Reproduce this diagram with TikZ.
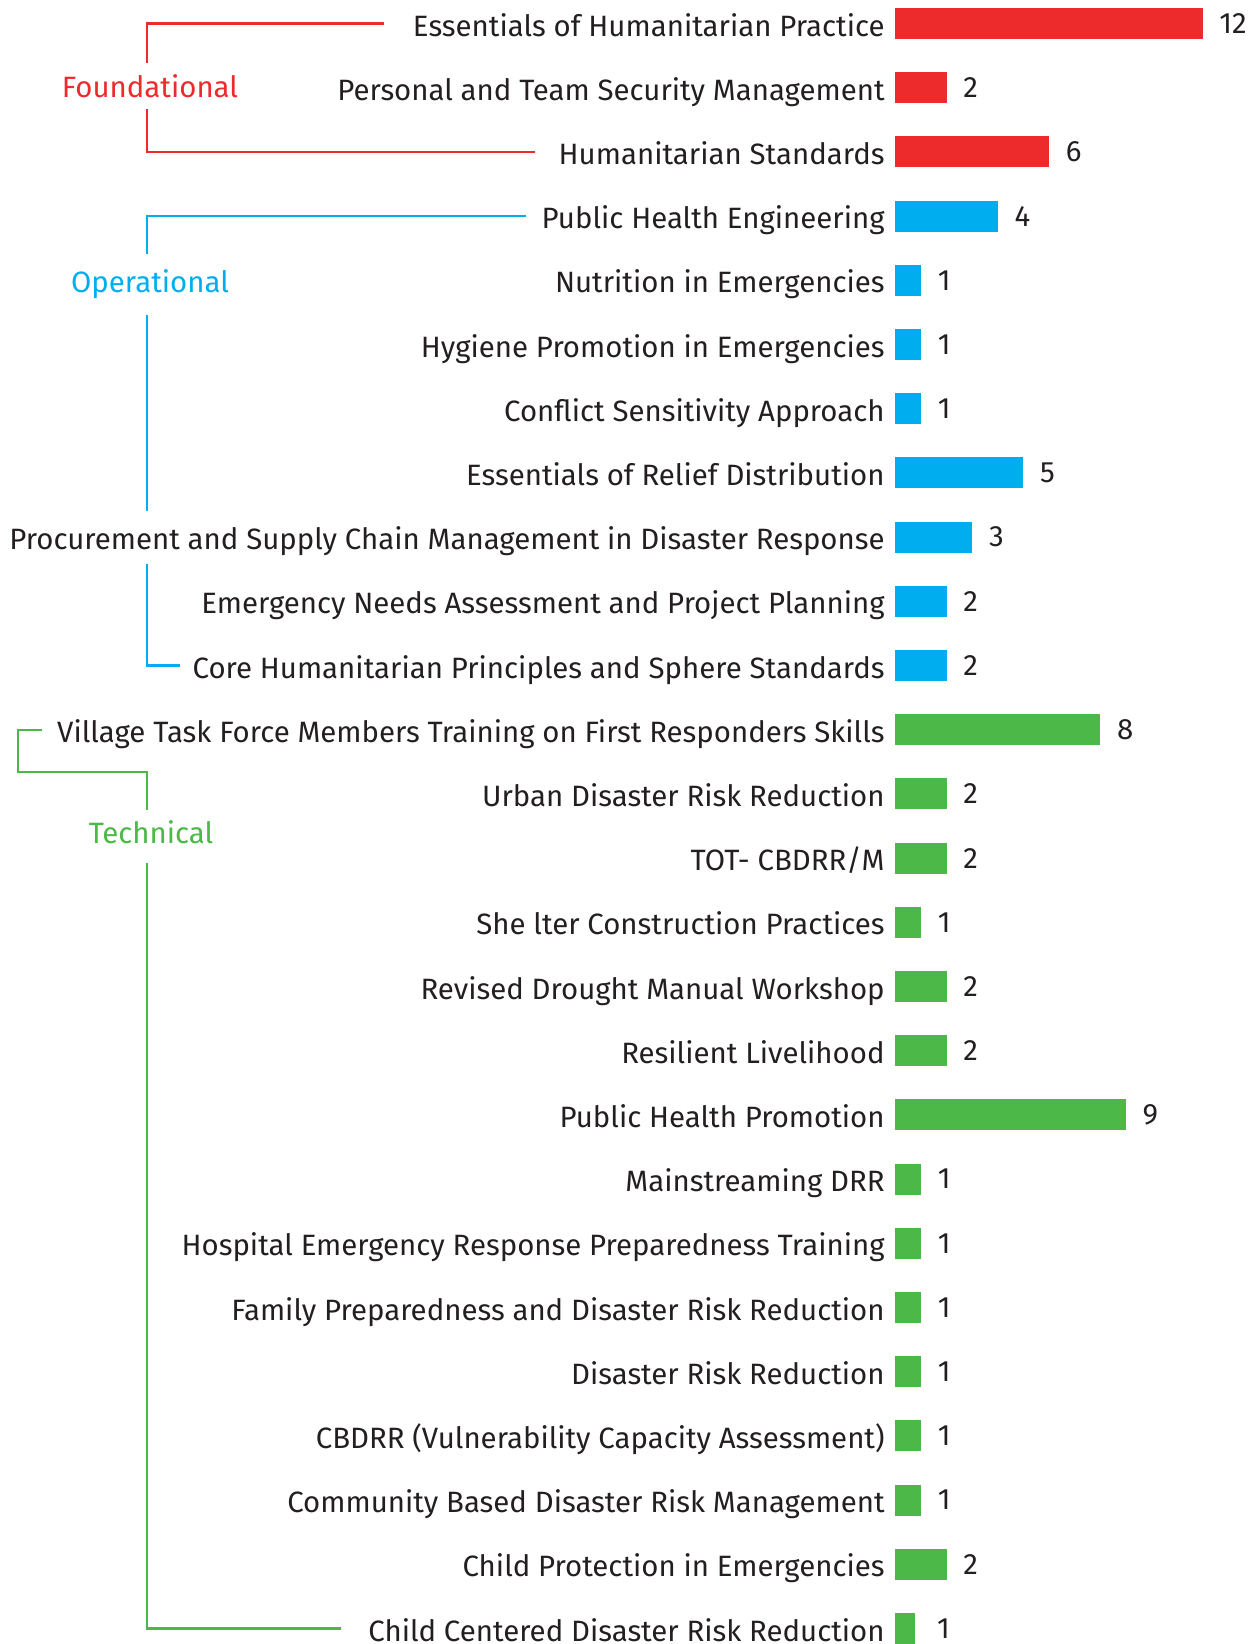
\documentclass[tikz,border=0pt]{standalone}
\usepackage{fontspec}
\setmainfont{Fira Sans}
\usetikzlibrary{positioning}

\definecolor{fred}{HTML}{ED2A2C}
\definecolor{fblue}{HTML}{00AEEF}
\definecolor{fgreen}{HTML}{4CB848}
\definecolor{ink}{HTML}{231F20}

\begin{document}
\begin{tikzpicture}[x=0.5pt,y=-0.5pt,
    every node/.style={font=\fontsize{14.7pt}{18pt}\selectfont},
    bar/.style={anchor=west, inner sep=0pt, minimum height=15.5pt, minimum width=#1*12.8pt},
    lbl/.style={anchor=base east, inner sep=0pt, text=ink, xshift=-5pt, yshift=-6.25pt},
    num/.style={inner sep=0pt, text=ink},
    cat/.style={anchor=base, inner sep=0pt},
    brk/.style={line width=1.15pt}]
        \useasboundingbox (0,0) rectangle (1257,1644);

        % bars
        \node[bar=12, fill=fred]  (b1)  at (895,23.5) {};
        \node[bar=2,  fill=fred]  (b2)  at (895,87.7) {};
        \node[bar=6,  fill=fred]  (b3)  at (895,151.9) {};
        \node[bar=4,  fill=fblue] (b4)  at (895,216.1) {};
        \node[bar=1,  fill=fblue] (b5)  at (895,280.3) {};
        \node[bar=1,  fill=fblue] (b6)  at (895,344.5) {};
        \node[bar=1,  fill=fblue] (b7)  at (895,408.7) {};
        \node[bar=5,  fill=fblue] (b8)  at (895,472.9) {};
        \node[bar=3,  fill=fblue] (b9)  at (895,537.1) {};
        \node[bar=2,  fill=fblue] (b10) at (895,601.3) {};
        \node[bar=2,  fill=fblue] (b11) at (895,665.5) {};
        \node[bar=8,  fill=fgreen] (b12) at (895,729.7) {};
        \node[bar=2,  fill=fgreen] (b13) at (895,793.9) {};
        \node[bar=2,  fill=fgreen] (b14) at (895,858.1) {};
        \node[bar=1,  fill=fgreen] (b15) at (895,922.3) {};
        \node[bar=2,  fill=fgreen] (b16) at (895,986.5) {};
        \node[bar=2,  fill=fgreen] (b17) at (895,1050.7) {};
        \node[bar=9,  fill=fgreen] (b18) at (895,1114.9) {};
        \node[bar=1,  fill=fgreen] (b19) at (895,1179.1) {};
        \node[bar=1,  fill=fgreen] (b20) at (895,1243.3) {};
        \node[bar=1,  fill=fgreen] (b21) at (895,1307.5) {};
        \node[bar=1,  fill=fgreen] (b22) at (895,1371.7) {};
        \node[bar=1,  fill=fgreen] (b23) at (895,1435.9) {};
        \node[bar=1,  fill=fgreen] (b24) at (895,1500.1) {};
        \node[bar=2,  fill=fgreen] (b25) at (895,1564.3) {};
        \node[bar=0.78, fill=fgreen] (b26) at (895,1628.5) {};

        % course names
        \node[lbl] (t1)  at (b1.west)  {Essentials of Humanitarian Practice};
        \node[lbl] (t2)  at (b2.west)  {Personal and Team Security Management};
        \node[lbl] (t3)  at (b3.west)  {Humanitarian Standards};
        \node[lbl] (t4)  at (b4.west)  {Public Health Engineering};
        \node[lbl] (t5)  at (b5.west)  {Nutrition in Emergencies};
        \node[lbl] (t6)  at (b6.west)  {Hygiene Promotion in Emergencies};
        \node[lbl] (t7)  at (b7.west)  {Conflict Sensitivity Approach};
        \node[lbl] (t8)  at (b8.west)  {Essentials of Relief Distribution};
        \node[lbl] (t9)  at (b9.west)  {Procurement and Supply Chain Management in Disaster Response};
        \node[lbl] (t10) at (b10.west) {Emergency Needs Assessment and Project Planning};
        \node[lbl] (t11) at (b11.west) {Core Humanitarian Principles and Sphere Standards};
        \node[lbl] (t12) at (b12.west) {Village Task Force Members Training on First Responders Skills};
        \node[lbl] (t13) at (b13.west) {Urban Disaster Risk Reduction};
        \node[lbl] (t14) at (b14.west) {TOT- CBDRR/M};
        \node[lbl] (t15) at (b15.west) {She lter Construction Practices};
        \node[lbl] (t16) at (b16.west) {Revised Drought Manual Workshop};
        \node[lbl] (t17) at (b17.west) {Resilient Livelihood};
        \node[lbl] (t18) at (b18.west) {Public Health Promotion};
        \node[lbl] (t19) at (b19.west) {Mainstreaming DRR};
        \node[lbl] (t20) at (b20.west) {Hospital Emergency Response Preparedness Training};
        \node[lbl] (t21) at (b21.west) {Family Preparedness and Disaster Risk Reduction};
        \node[lbl] (t22) at (b22.west) {Disaster Risk Reduction};
        \node[lbl] (t23) at (b23.west) {CBDRR (Vulnerability Capacity Assessment)};
        \node[lbl] (t24) at (b24.west) {Community Based Disaster Risk Management};
        \node[lbl] (t25) at (b25.west) {Child Protection in Emergencies};
        \node[lbl] (t26) at (b26.west) {Child Centered Disaster Risk Reduction};

        % counts
        \node[num, right=8pt of b1]  (v1)  {12};
        \node[num, right=8pt of b2]  (v2)  {2};
        \node[num, right=8pt of b3]  (v3)  {6};
        \node[num, right=8pt of b4]  (v4)  {4};
        \node[num, right=8pt of b5]  (v5)  {1};
        \node[num, right=8pt of b6]  (v6)  {1};
        \node[num, right=8pt of b7]  (v7)  {1};
        \node[num, right=8pt of b8]  (v8)  {5};
        \node[num, right=8pt of b9]  (v9)  {3};
        \node[num, right=8pt of b10] (v10) {2};
        \node[num, right=8pt of b11] (v11) {2};
        \node[num, right=8pt of b12] (v12) {8};
        \node[num, right=8pt of b13] (v13) {2};
        \node[num, right=8pt of b14] (v14) {2};
        \node[num, right=8pt of b15] (v15) {1};
        \node[num, right=8pt of b16] (v16) {2};
        \node[num, right=8pt of b17] (v17) {2};
        \node[num, right=8pt of b18] (v18) {9};
        \node[num, right=8pt of b19] (v19) {1};
        \node[num, right=8pt of b20] (v20) {1};
        \node[num, right=8pt of b21] (v21) {1};
        \node[num, right=8pt of b22] (v22) {1};
        \node[num, right=8pt of b23] (v23) {1};
        \node[num, right=8pt of b24] (v24) {1};
        \node[num, right=8pt of b25] (v25) {2};
        \node[num, right=10.5pt of b26] (v26) {1};

        % groups
        \node[cat, text=fred]   (fnd) at (150,97)  {Foundational};
        \node[cat, text=fblue]  (opr) at (150,292) {Operational};
        \node[cat, text=fgreen] (tec) at (151,843) {Technical};

        \path (t1.west |- b1.center) ++(-29,0) coordinate (f1);
        \path (t3.west |- b3.center) ++(-23,0) coordinate (f3);
        \coordinate (fa) at (147,63);
        \coordinate (fb) at (147,109);
        \draw[brk, fred] (f1) -| (fa);
        \draw[brk, fred] (fb) |- (f3);

        \path (t4.west |- b4.center) ++(-15,0) coordinate (o4);
        \path (t11.west |- b11.center) ++(-12,0) coordinate (o11);
        \coordinate (oa) at (147,254);
        \coordinate (ob) at (147,315);
        \coordinate (oc) at (147,511);
        \coordinate (od) at (147,564);
        \draw[brk, fblue] (o4) -| (oa);
        \draw[brk, fblue] (ob) -- (oc);
        \draw[brk, fblue] (od) |- (o11);

        \path (t12.west |- b12.center) ++(-15,0) coordinate (g12);
        \path (t26.west |- b26.center) ++(-27,0) coordinate (g26);
        \coordinate (ga) at (18,772);
        \coordinate (gb) at (147,810);
        \coordinate (gc) at (147,863);
        \draw[brk, fgreen] (g12) -| (ga) -| (gb);
        \draw[brk, fgreen] (gc) |- (g26);
\end{tikzpicture}
\end{document}
